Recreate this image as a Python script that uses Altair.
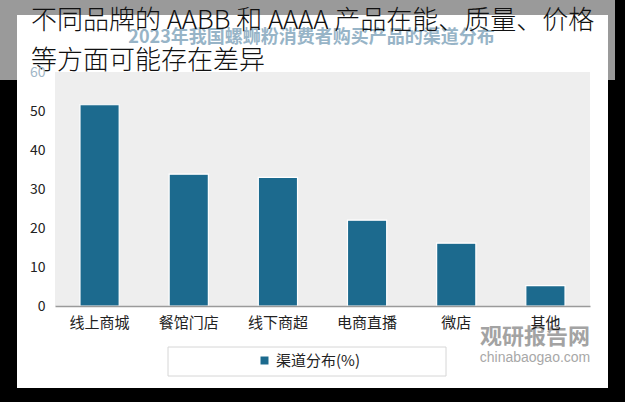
import altair as alt
import pandas as pd

# ---- data ----
categories = ["线上商城", "餐馆门店", "线下商超", "电商直播", "微店", "其他"]
values = [51.6, 33.8, 33.0, 22.0, 16.1, 5.2]
series_name = "渠道分布(%)"
y_ticks = [0, 10, 20, 30, 40, 50, 60]
title_text = ["2023年我国螺蛳粉消费者购买产品的渠道分布"]
overlay_lines = ["不同品牌的 AABB 和 AAAA 产品在能、质量、价格", "等方面可能存在差异"]
watermark_main = ["观研报告网"]
watermark_sub = ["chinabaogao.com"]

df = pd.DataFrame({"渠道": categories, "占比": values, "系列": [series_name] * len(categories)})

W, H = 535, 234
PL, PT = 55, 72
FONT = "Noto Sans CJK SC"

one = pd.DataFrame({"k": [0]})

def deco_rect(x0, x1, y0, y1, fill, stroke=None):
    kw = {"fill": fill}
    if stroke:
        kw.update(stroke=stroke, strokeWidth=1)
    return alt.Chart(one).mark_rect(**kw).encode(
        x=alt.value(x0 - PL), x2=alt.value(x1 - PL),
        y=alt.value(y0 - PT), y2=alt.value(y1 - PT))

banner = deco_rect(0, 615, 0, 80, "#9a9a9a")
panel = deco_rect(17, 608, 15, 388, "#ffffff")
plotfill = deco_rect(55, 590, 72, 306, "#eeeeee")
legendbox = deco_rect(168, 446, 347, 376, "#ffffff", stroke="#d6d6d6")

bars = alt.Chart(df).mark_bar(stroke="#ffffff", strokeWidth=1.2).encode(
    x=alt.X("渠道:N", sort=categories, title=None,
            scale=alt.Scale(paddingInner=0.56, paddingOuter=0.28),
            axis=alt.Axis(labelAngle=0, labelFontSize=15, labelColor="#222222",
                          labelFont=FONT, labelPadding=9, ticks=False,
                          domainColor="#9a9a9a", domainWidth=1.5, zindex=1)),
    y=alt.Y("占比:Q", title=None,
            scale=alt.Scale(domain=[0, 60], nice=False),
            axis=alt.Axis(values=y_ticks, grid=False, domain=False, ticks=False,
                          labelFontSize=14, labelFont=FONT, labelPadding=10,
                          labelColor={"condition": {"test": "datum.value == 60", "value": "#9fb6c6"},
                                      "value": "#222222"},
                          zindex=1)),
    color=alt.Color("系列:N", title=None,
                    scale=alt.Scale(range=["#1c6a8e"]),
                    legend=alt.Legend(orient="none", legendX=202, legendY=281,
                                      symbolType="square", symbolSize=90,
                                      labelFontSize=15, labelFont=FONT,
                                      labelColor="#222222", padding=0))
)

title = alt.Chart(pd.DataFrame({"t": title_text})).mark_text(
    font=FONT, fontSize=18, fontWeight="bold", color="#97b4c7",
    align="center", baseline="middle").encode(
    text="t:N", x=alt.value(311.5 - PL), y=alt.value(38 - PT))

ov = pd.DataFrame({"t": overlay_lines, "i": [0, 1]})
overlay1 = alt.Chart(ov.iloc[[0]]).mark_text(
    font=FONT, fontSize=26, fontWeight=300, color="#111111",
    align="left", baseline="middle").encode(
    text="t:N", x=alt.value(31 - PL), y=alt.value(21 - PT))
overlay2 = alt.Chart(ov.iloc[[1]]).mark_text(
    font=FONT, fontSize=26, fontWeight=300, color="#111111",
    align="left", baseline="middle").encode(
    text="t:N", x=alt.value(31 - PL), y=alt.value(61 - PT))

wm1 = alt.Chart(pd.DataFrame({"t": watermark_main})).mark_text(
    font=FONT, fontSize=22, fontWeight="bold", color="#a3a3a3",
    align="center", baseline="middle").encode(
    text="t:N", x=alt.value(535 - PL), y=alt.value(337 - PT))
wm2 = alt.Chart(pd.DataFrame({"t": watermark_sub})).mark_text(
    font="Liberation Sans", fontSize=14, color="#a8a8a8",
    align="center", baseline="middle").encode(
    text="t:N", x=alt.value(535 - PL), y=alt.value(358 - PT))

chart = alt.layer(banner, panel, plotfill, legendbox, bars, wm1, wm2, title, overlay1, overlay2).properties(
    width=W, height=H,
    autosize="none",
    padding={"left": PL, "top": PT, "right": 625 - PL - W, "bottom": 402 - PT - H},
    background="#000000",
).configure_view(stroke=None)

chart.save("out.html", embed_options={"renderer": "svg", "actions": False})
